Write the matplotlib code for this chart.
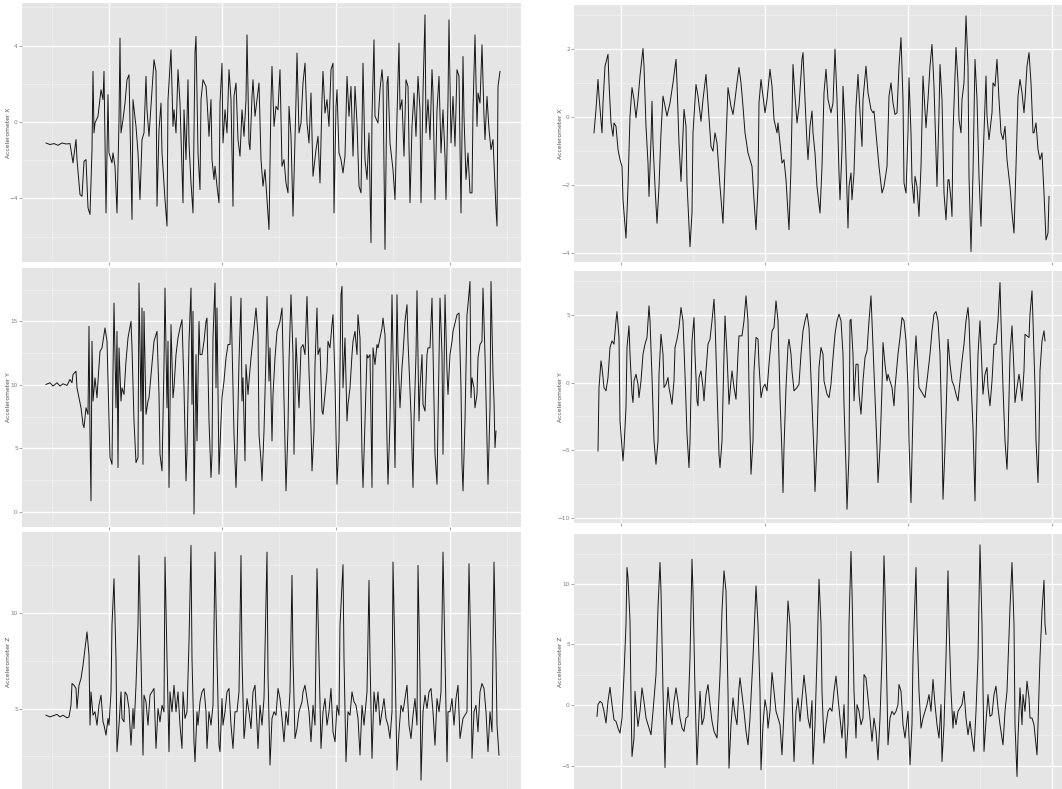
import matplotlib
matplotlib.use("Agg")
import matplotlib.pyplot as plt
from matplotlib.ticker import FixedLocator, NullFormatter

# ---------------- data (time index, acceleration) ----------------
LX = [(0,-1.1),(4,-1.18),(8,-1.13),(12,-1.22),(16,-1.1),(20,-1.15),(24,-1.13),(27,-2.14),(30,-0.92),(31,-1.97),
      (34,-3.8),(36,-3.89),(38,-2.06),(40,-1.97),(42,-4.49),(44,-4.84),(46,-1.45),(47,2.65),(48,-0.57),(49,-0.05),
      (52,0.3),(55,1.69),(57,1.17),(58,2.65),(60,-4.76),(62,1.43),(63,-1.62),(66,-2.14),(67,-1.62),(69,-2.32),
      (71,-4.76),(73,0.03),(74,4.39),(75,-0.57),(77,0.12),(79,0.99),(81,2.21),(83,2.47),(86,-5.1),(87,1.17),
      (90,-0.23),(92,-1.62),(94,-4.06),(96,-0.92),(98,-0.57),(100,2.39),(101,0.64),(103,-0.75),(106,1.69),(108,3.26),
      (110,2.65),(111,-4.41),(113,-0.4),(115,0.99),(116,-1.62),(119,-4.06),(121,-5.45),(122,1.17),(125,3.78),(127,-0.23),
      (128,0.64),(130,-0.57),(132,2.74),(134,0.99),(137,-4.23),(138,0.64),(140,-1.97),(142,2.21),(143,-1.1),(145,-3.19),
      (147,-4.76),(149,3.61),(150,4.48),(152,-1.62),(154,-3.54),(155,1.17),(157,2.21),(160,1.86),(161,1.17),(163,-0.75),
      (165,1.17),(166,-1.97),(168,-3.01),(169,-2.32),(171,-3.36),(173,-4.23),(174,0.99),(176,3.08),(177,-1.1),(179,0.64),
      (181,-0.57),(183,2.74),(185,1.17),(187,-4.41),(188,1.34),(190,2.04),(192,-0.92),(194,-1.79),(196,0.64),(198,-0.75),
      (200,1.17),(201,4.56),(203,-1.1),(204,-1.45),(206,1.34),(207,2.21),(209,0.3),(211,1.17),(213,2.04),(215,-1.97),
      (217,-3.36),(219,-2.49),(221,-4.06),(223,-5.63),(225,1.17),(226,2.91),(228,-0.23),(230,0.82),(232,0.64),(234,2.74),
      (236,-2.32),(238,-1.97),(240,-3.19),(242,-3.71),(243,0.82),(245,-0.75),(247,-4.93),(250,1.17),(251,3.61),(253,-0.57),
      (255,-0.05),(257,2.04),(259,3.08),(261,-0.05),(263,-1.1),(265,1.52),(267,-2.84),(270,-1.45),(272,-0.75),(274,-3.19),
      (276,1.17),(277,2.65),(279,0.47),(281,1.17),(283,-0.23),(285,2.74),(287,3.08),(288,-4.76),(290,0.82),(291,1.69),
      (293,-1.62),(295,-1.97),(297,-2.67),(299,-1.79),(301,2.39),(303,0.3),(305,1.86),(307,-1.79),(309,1.86),(311,-0.05),
      (313,-3.36),(315,-3.71),(317,3.08),(319,-1.97),(321,-3.01),(323,-0.57),(325,-6.32),(326,0.3),(328,4.3),(329,0.3),
      (332,-0.05),(334,1.69),(336,2.74),(337,2.04),(339,-6.67),(341,2.04),(342,2.39),(344,-1.1),(347,-2.49),(349,-4.06),
      (351,0.3),(353,4.13),(354,0.64),(356,1.17),(358,-1.79),(360,2.21),(362,1.86),(364,-4.23),(366,-0.23),(368,1.52),
      (370,-0.75),(372,2.39),(374,0.64),(375,-4.23),(377,1.52),(379,5.61),(380,-0.57),(382,1.17),(384,-0.92),(386,2.74),
      (387,1.52),(389,-4.06),(391,0.64),(393,2.39),(395,-1.62),(397,0.64),(399,-1.79),(400,-4.06),(402,1.17),(403,5.35),
      (405,-1.1),(407,1.34),(409,-1.27),(411,2.74),(413,2.39),(415,-4.76),(417,3.43),(418,0.3),(420,-3.01),(422,-1.62),
      (424,-3.71),(426,-3.71),(427,0.64),(429,4.56),(431,-0.23),(432,1.52),(434,0.99),(436,4.04),(438,0.3),(439,-0.92),
      (441,1.34),(443,-0.4),(445,-1.45),(447,-0.92),(448,-2.14),(450,-4.58),(451,-5.45),(452,1.86),(454,2.65)]

LY = [(0,10.03),(4,10.16),(7,9.9),(11,10.16),(14,9.9),(17,10.08),(21,9.95),(24,10.42),(26,10.16),(27,10.81),
      (30,11.07),(31,9.76),(33,8.98),(35,8.19),(37,6.88),(38,6.62),(40,8.19),(42,7.67),(43,14.61),(44,6.1),
      (45,0.86),(46,13.43),(47,8.72),(49,10.55),(51,8.98),(52,10.29),(54,12.64),(56,12.91),(57,13.43),(59,14.48),
      (61,13.43),(63,7.15),(64,4.27),(66,3.74),(67,11.07),(68,16.44),(70,8.19),(71,14.21),(72,3.48),(73,12.91),
      (75,8.72),(76,9.76),(78,9.24),(80,11.86),(82,13.69),(85,15.0),(86,12.91),(88,7.15),(90,3.87),(92,4.27),
      (93,18.01),(95,7.93),(96,16.05),(97,3.74),(98,15.79),(100,7.67),(102,8.72),(103,8.98),(106,11.6),(108,13.43),
      (111,14.21),(113,9.24),(114,4.53),(116,3.22),(118,11.6),(119,17.62),(121,8.19),(122,13.43),(123,1.91),(125,14.74),
      (127,8.98),(128,9.76),(130,12.38),(132,13.69),(134,14.48),(136,15.13),(138,9.76),(140,2.43),(141,4.79),(143,13.43),
      (145,17.62),(146,8.46),(147,15.79),(148,-0.18),(150,12.38),(151,5.58),(153,15.0),(154,12.38),(156,12.38),(158,13.43),
      (160,15.0),(161,15.26),(163,7.15),(165,2.7),(166,4.53),(167,13.69),(169,18.01),(170,9.76),(171,16.05),(173,2.96),
      (175,7.15),(176,8.98),(178,10.29),(180,12.12),(182,13.17),(184,13.17),(185,16.96),(187,9.76),(188,6.1),(190,1.91),
      (191,4.53),(193,11.86),(195,16.83),(196,8.72),(197,10.55),(199,4.01),(200,11.6),(202,9.24),(203,10.29),(205,12.12),
      (207,13.69),(210,16.05),(212,13.95),(213,6.1),(215,4.01),(216,2.43),(218,6.36),(220,12.38),(221,16.96),(223,10.29),
      (224,12.91),(226,5.58),(227,9.24),(229,12.12),(231,14.21),(234,15.0),(236,16.05),(238,8.72),(240,1.65),(242,6.62),
      (243,11.86),(245,17.09),(247,12.38),(248,4.53),(250,13.69),(252,9.76),(253,8.19),(255,12.91),(257,13.17),(259,12.38),
      (261,16.96),(263,11.07),(265,6.62),(266,3.22),(268,6.36),(269,11.6),(271,16.05),(272,12.38),(274,12.91),(276,7.93),
      (277,7.67),(279,9.24),(281,11.07),(282,13.43),(284,12.91),(286,14.74),(287,15.52),(289,10.29),(291,2.17),(293,5.58),
      (295,17.09),(296,17.75),(297,9.76),(299,13.69),(301,7.15),(302,8.46),(304,9.76),(306,12.38),(307,13.43),(309,14.21),
      (311,12.38),(312,15.52),(314,13.69),(316,4.53),(317,1.91),(319,7.15),(321,12.38),(322,12.12),(324,12.38),(326,1.91),
      (327,12.91),(329,11.6),(331,13.17),(332,12.91),(334,13.69),(336,14.48),(337,15.26),(339,13.95),(341,5.58),(342,2.17),
      (344,7.15),(346,17.09),(347,12.38),(349,3.48),(351,17.09),(352,12.38),(354,8.19),(356,11.34),(357,12.38),(359,15.0),
      (361,16.31),(362,13.43),(365,7.67),(367,1.91),(368,7.15),(370,12.38),(371,17.41),(373,7.15),(374,9.76),(376,12.38),
      (377,8.46),(379,7.93),(381,12.38),(382,12.91),(384,12.91),(386,16.83),(387,12.64),(389,4.53),(391,2.17),(392,7.15),
      (394,16.83),(396,12.38),(397,4.53),(399,17.09),(401,11.07),(402,9.24),(404,12.38),(406,13.43),(407,14.21),(411,15.52),
      (413,15.65),(415,9.76),(416,3.74),(417,1.65),(419,7.15),(421,15.52),(422,16.31),(424,18.14),(425,8.98),(426,10.55),
      (428,9.76),(429,8.19),(431,9.24),(432,12.12),(434,13.17),(436,13.43),(437,17.62),(439,12.38),(441,5.58),(442,2.17),
      (444,8.19),(445,18.14),(447,10.81),(448,8.72),(449,5.05),(450,6.36)]

LZ = [(0,4.65),(4,4.56),(7,4.62),(11,4.69),(14,4.56),(17,4.65),(21,4.51),(23,4.56),(25,5.17),(26,6.31),
      (28,6.22),(30,6.05),(31,5.0),(33,6.22),(35,6.57),(37,7.26),(39,8.14),(41,9.01),(43,7.79),(44,4.13),
      (45,5.87),(47,4.65),(49,4.83),(51,4.13),(53,5.17),(55,5.7),(57,4.3),(58,4.13),(60,3.61),(62,4.48),
      (63,4.13),(65,5.87),(66,9.36),(68,11.79),(70,7.61),(71,2.74),(73,4.13),(75,5.87),(76,4.48),(78,4.3),
      (79,5.87),(81,5.7),(83,5.0),(85,3.08),(87,5.0),(88,3.95),(90,6.22),(92,9.36),(93,13.01),(95,7.61),
      (97,2.56),(98,5.7),(100,5.35),(102,4.13),(104,5.7),(106,5.87),(108,6.05),(110,2.91),(112,5.0),(114,4.3),
      (116,5.17),(118,4.83),(119,12.93),(121,7.61),(123,2.74),(124,5.87),(126,4.83),(128,6.22),(130,4.83),(132,5.87),
      (134,4.13),(136,2.91),(137,5.87),(139,4.48),(141,4.83),(143,8.48),(145,13.54),(146,7.61),(148,3.26),(149,2.21),
      (151,4.83),(152,4.13),(154,5.35),(156,5.87),(158,6.05),(160,4.83),(161,2.91),(163,4.83),(165,4.13),(167,5.17),
      (169,13.19),(171,7.61),(173,3.08),(174,2.74),(176,5.52),(177,4.13),(179,4.83),(181,5.87),(183,6.05),(185,4.13),
      (187,2.91),(189,4.83),(191,4.83),(193,5.87),(195,13.01),(196,7.61),(198,3.43),(199,3.95),(201,5.52),(203,4.83),
      (205,3.95),(207,5.87),(209,6.22),(211,4.13),(212,2.91),(214,5.17),(216,4.13),(218,5.52),(221,13.19),(222,6.74),
      (224,2.04),(226,4.48),(228,4.83),(230,4.65),(232,6.05),(234,5.52),(236,4.48),(238,3.26),(240,4.83),(242,4.13),
      (244,5.87),(246,11.97),(247,7.61),(249,3.43),(251,3.95),(253,4.83),(256,5.35),(257,5.87),(259,6.22),(261,5.52),
      (263,4.83),(265,3.26),(267,5.17),(269,4.13),(271,12.32),(273,7.61),(275,2.91),(277,4.83),(279,5.52),(281,4.13),
      (283,4.83),(285,6.05),(287,3.78),(289,3.26),(291,5.17),(293,4.65),(294,9.36),(297,12.53),(298,7.61),(300,2.21),
      (302,4.83),(304,4.65),(306,5.87),(308,5.35),(310,5.17),(312,4.48),(314,2.56),(316,5.17),(318,4.13),(321,5.87),
      (323,11.71),(324,7.61),(326,2.39),(328,5.87),(330,4.83),(332,5.87),(334,4.13),(336,4.83),(338,5.52),(340,4.48),
      (342,4.13),(344,3.43),(346,4.83),(347,12.67),(349,7.61),(351,1.78),(353,3.78),(355,5.17),(357,4.83),(359,5.52),
      (361,6.22),(363,4.13),(365,3.43),(367,4.65),(369,5.52),(371,4.13),(372,12.49),(374,6.74),(375,1.25),(377,4.83),
      (379,5.7),(381,5.0),(383,5.87),(385,6.05),(387,4.83),(389,3.08),(391,5.52),(393,4.83),(395,5.87),(397,13.19),
      (399,7.61),(401,2.21),(402,4.83),(404,4.83),(406,5.52),(408,4.13),(410,5.52),(412,6.22),(414,3.43),(416,4.13),
      (417,4.48),(421,4.83),(423,12.58),(425,7.61),(426,2.39),(428,4.83),(430,5.17),(432,3.78),(434,5.87),(436,6.31),
      (438,6.05),(440,4.83),(442,2.74),(444,4.83),(446,3.78),(448,12.67),(450,7.61),(451,4.13),(453,2.56)]

RX = [(0,-0.47),(2,0.22),(4,1.1),(5,0.61),(8,-0.47),(9,0.41),(11,1.49),(14,1.84),(15,1.0),(17,-0.18),
      (19,-0.57),(20,-0.18),(22,-0.28),(24,-0.96),(26,-1.26),(28,-1.46),(29,-2.44),(32,-3.57),(34,-2.05),(36,0.02),
      (38,0.86),(40,0.51),(42,-0.03),(44,0.51),(46,1.2),(49,2.01),(50,1.49),(52,-0.28),(54,-1.36),(55,-2.34),
      (57,-0.67),(58,0.46),(59,-0.77),(61,-2.05),(63,-3.13),(65,-2.05),(67,-0.47),(69,0.61),(71,0.31),(73,0.02),
      (76,0.41),(79,1.0),(82,1.69),(83,1.0),(85,-0.77),(87,-1.9),(89,-0.47),(90,0.22),(92,-0.28),(93,-1.95),
      (96,-3.82),(98,-2.83),(99,-0.47),(102,0.95),(104,0.61),(107,-0.13),(109,0.51),(112,1.25),(114,0.41),(117,-0.87),
      (119,-1.01),(121,-0.47),(123,-0.77),(126,-2.05),(129,-3.13),(131,-1.46),(134,0.86),(137,0.31),(139,0.07),(141,0.51),
      (143,1.0),(145,1.45),(147,1.0),(149,0.31),(151,-0.47),(154,-1.06),(158,-1.46),(160,-2.44),(162,-3.32),(164,-2.05),
      (165,0.41),(167,1.1),(169,0.61),(171,0.12),(173,0.51),(176,1.4),(178,0.9),(180,-0.08),(183,-0.47),(184,-0.18),
      (186,-0.77),(188,-1.36),(190,-1.26),(192,-1.85),(195,-3.32),(197,-1.46),(199,1.54),(201,0.61),(203,-0.18),(205,0.31),
      (208,1.69),(209,1.89),(211,0.51),(213,-0.77),(214,-1.26),(216,-0.28),(218,0.17),(219,-0.47),(221,-1.06),(223,-2.05),
      (226,-2.83),(228,-1.46),(230,0.71),(232,1.4),(234,0.51),(237,0.12),(239,0.41),(241,1.99),(243,0.51),(245,-1.65),
      (246,-2.44),(248,-0.96),(249,0.9),(251,-0.28),(254,-3.27),(255,-2.05),(257,-1.65),(258,-2.44),(260,-1.65),(262,0.31),
      (264,1.25),(266,0.12),(268,-0.87),(269,0.51),(272,1.49),(274,0.71),(277,0.22),(279,0.12),(280,0.17),(282,-0.47),
      (285,-1.46),(288,-2.24),(290,-2.05),(293,-1.46),(295,0.61),(297,1.0),(299,0.41),(301,0.07),(303,0.12),(305,1.49),
      (307,2.33),(309,0.51),(310,-1.95),(312,-2.24),(314,-0.47),(315,1.15),(317,-0.47),(318,-1.9),(320,-2.54),(321,-1.75),
      (323,-2.05),(325,-2.93),(327,-1.46),(329,1.2),(330,0.71),(332,-0.32),(334,0.51),(336,1.49),(338,2.13),(340,0.9),
      (343,-2.05),(345,0.12),(346,1.54),(348,0.51),(350,-2.24),(352,-3.03),(354,-1.85),(355,-1.85),(357,-2.44),(358,-2.93),
      (359,-0.47),(362,2.04),(364,1.0),(365,-0.08),(367,-0.47),(368,0.51),(370,1.0),(372,2.97),(374,1.49),(375,-1.75),
      (377,-3.96),(379,-1.65),(381,1.69),(383,0.51),(385,-1.75),(387,-3.22),(388,-2.05),(390,-0.47),(392,1.2),(393,0.02),
      (395,-0.67),(398,0.12),(399,1.0),(401,0.9),(403,1.69),(405,0.51),(407,-0.47),(409,-0.67),(411,-0.28),(413,-1.26),
      (416,-2.05),(418,-2.83),(420,-3.42),(422,-1.46),(424,0.61),(426,1.1),(428,0.71),(430,0.12),(431,0.51),(433,1.49),
      (435,1.89),(437,1.0),(439,-0.47),(440,-0.47),(442,-0.18),(444,-0.96),(446,-1.26),(448,-1.06),(450,-2.24),(452,-3.62),
      (454,-3.42),(455,-2.34)]

RY = [(4,-5.04),(5,-0.37),(7,1.6),(8,1.11),(10,-0.37),(12,-0.61),(14,0.37),(16,2.58),(18,3.07),(20,2.83),
      (22,4.55),(23,5.23),(25,3.32),(26,-2.83),(28,-4.79),(29,-5.77),(30,-4.79),(32,-1.84),(33,2.58),(35,4.18),
      (36,2.09),(38,-0.86),(39,-1.47),(40,0.12),(42,0.61),(44,-0.12),(45,-1.11),(47,0.12),(49,2.09),(51,2.83),
      (53,3.32),(55,5.65),(56,4.55),(58,0.37),(60,-4.3),(62,-6.02),(64,-4.3),(65,0.61),(67,3.56),(69,2.09),
      (70,-0.37),(72,-0.12),(74,0.37),(75,-0.37),(78,-1.6),(80,0.12),(81,2.58),(83,3.19),(85,4.05),(87,5.53),
      (89,4.55),(91,0.61),(93,-3.81),(95,-6.27),(96,-4.3),(98,3.07),(100,4.79),(101,2.09),(103,-1.35),(104,-1.72),
      (105,0.37),(107,0.86),(109,-0.37),(110,-1.35),(112,0.86),(114,2.83),(116,3.19),(118,4.55),(120,6.14),(121,4.55),
      (123,-0.37),(125,-5.28),(126,-6.27),(128,-4.3),(130,2.09),(131,4.91),(133,2.09),(135,-1.6),(137,0.12),(138,0.86),
      (140,-0.37),(142,-1.23),(144,2.09),(145,3.44),(148,3.44),(150,4.55),(152,6.39),(154,4.55),(155,-0.37),(157,-6.76),
      (159,-4.3),(160,0.86),(162,3.32),(164,3.19),(165,1.35),(167,-1.11),(169,-0.37),(171,-0.12),(173,-0.61),(175,1.35),
      (178,3.81),(180,4.05),(182,6.02),(184,4.55),(186,-1.11),(188,-5.28),(189,-8.11),(190,-4.79),(192,-0.37),(194,2.7),
      (195,3.19),(197,2.09),(198,0.86),(200,-0.61),(203,-0.37),(205,-0.12),(207,2.09),(209,3.81),(211,4.55),(213,5.09),
      (215,4.05),(218,-1.6),(220,-5.28),(221,-8.03),(223,-4.3),(225,1.11),(227,2.58),(229,2.09),(230,0.12),(233,-0.86),
      (235,-1.11),(237,-0.12),(239,1.84),(241,3.56),(243,4.55),(245,5.04),(247,4.55),(249,2.09),(250,-1.6),(252,-6.27),
      (253,-9.34),(255,-5.28),(256,4.55),(257,4.67),(259,2.09),(260,-1.35),(262,1.35),(264,1.35),(265,-0.86),(267,-2.33),
      (269,0.12),(271,1.84),(273,2.33),(275,4.55),(277,6.39),(278,4.55),(281,-0.86),(283,-4.79),(284,-7.37),(286,-4.79),
      (288,-0.37),(289,2.95),(291,1.35),(293,0.12),(294,0.61),(296,0.12),(298,-0.37),(300,-1.72),(301,-0.37),(304,2.09),
      (306,3.32),(308,4.79),(310,4.55),(312,3.07),(314,-0.37),(315,-4.3),(317,-8.85),(318,-5.28),(320,0.86),(322,3.44),
      (323,2.09),(325,-0.37),(327,-0.61),(329,-0.86),(331,-1.11),(333,0.12),(336,2.09),(338,3.81),(340,5.04),(342,5.23),
      (344,4.55),(346,2.09),(348,-3.81),(349,-8.6),(351,-4.79),(353,0.12),(354,3.19),(356,1.35),(358,0.12),(360,-0.25),
      (362,-0.86),(364,-1.35),(366,0.12),(368,1.6),(370,2.83),(372,4.55),(374,5.53),(375,4.55),(377,0.12),(379,-3.32),
      (381,-8.72),(382,-4.3),(384,2.09),(386,4.55),(388,0.86),(389,-0.86),(391,0.61),(393,1.11),(394,-0.37),(396,-1.72),
      (398,0.12),(400,2.83),(402,2.83),(404,4.55),(406,7.37),(407,4.55),(409,-0.37),(411,-4.3),(413,-6.39),(414,-4.3),
      (416,2.09),(418,4.18),(420,0.86),(421,-1.47),(423,-0.37),(425,0.61),(426,0.12),(428,-1.35),(430,0.86),(431,3.56),
      (433,3.44),(435,3.32),(436,5.04),(438,6.76),(439,4.55),(441,-0.37),(442,-4.3),(444,-7.37),(445,-4.3),(446,0.86),
      (448,3.07),(450,3.81),(451,3.07)]

RZ = [(3,-0.94),(4,0.03),(6,0.3),(8,0.17),(10,-0.52),(12,-1.49),(14,0.3),(16,1.46),(18,0.03),(20,-1.22),
      (22,-1.35),(24,-1.91),(26,-2.32),(28,-1.08),(30,2.51),(32,6.66),(33,11.35),(34,10.52),(36,6.93),(37,0.58),
      (38,-4.25),(40,-2.73),(41,1.13),(42,0.03),(44,-1.77),(46,-0.52),(48,1.41),(50,0.3),(52,-1.08),(55,-1.91),
      (57,-2.46),(59,-0.52),(62,2.51),(64,8.04),(66,11.77),(67,9.42),(69,1.13),(71,-5.17),(72,-1.35),(74,1.46),
      (76,-0.52),(78,-1.63),(80,0.3),(82,1.41),(84,0.3),(86,-1.08),(88,-1.91),(90,-2.18),(92,-1.08),(94,-0.94),
      (96,3.9),(98,12.04),(99,9.42),(101,1.13),(103,-4.94),(105,-0.8),(106,1.13),(108,-1.63),(110,-1.08),(112,0.86),
      (114,1.69),(116,0.03),(118,-1.35),(120,-2.18),(123,-2.73),(124,-1.08),(126,2.51),(128,7.76),(130,11.08),(132,9.42),
      (134,1.13),(135,-5.22),(137,-1.63),(139,0.58),(141,-0.8),(143,-1.63),(145,1.41),(146,2.24),(148,0.86),(150,-0.52),
      (152,-2.18),(154,-3.29),(156,-1.08),(159,3.9),(161,7.76),(162,9.83),(164,6.66),(166,1.13),(167,-5.36),(169,-1.63),
      (171,0.44),(173,-0.52),(174,-1.91),(176,-0.52),(178,2.68),(180,1.13),(182,-0.52),(184,-1.08),(186,-1.63),(188,-4.12),
      (190,-0.52),(192,3.9),(194,8.59),(196,6.66),(198,1.13),(200,-4.67),(202,-0.52),(204,0.58),(206,-1.35),(208,0.58),
      (210,2.46),(212,0.86),(214,-1.08),(216,-1.91),(218,0.36),(219,-4.89),(221,-1.63),(223,3.9),(225,10.39),(227,6.66),
      (228,1.13),(230,-3.15),(232,-1.63),(234,-0.52),(236,-0.25),(238,-0.52),(240,1.13),(242,2.38),(244,0.58),(246,-1.08),
      (248,-2.73),(250,0.03),(252,-4.39),(254,-1.63),(255,6.66),(257,12.68),(258,9.42),(260,1.13),(262,-2.73),(263,0.03),
      (265,-0.52),(267,-1.63),(269,-1.08),(270,2.51),(272,2.24),(274,0.58),(276,-1.08),(278,-3.01),(280,-1.08),(282,-2.18),
      (284,-4.53),(286,-1.08),(288,3.9),(290,12.32),(291,9.42),(293,1.13),(294,-3.29),(296,-1.08),(298,-0.52),(300,-0.8),
      (302,-0.52),(304,0.03),(305,1.69),(307,1.13),(309,-1.63),(311,-2.73),(314,-0.52),(316,-4.94),(318,-1.63),(319,3.9),
      (322,11.35),(323,6.66),(325,1.13),(327,-1.91),(329,-1.08),(331,-0.52),(333,0.03),(335,0.86),(337,-0.52),(339,2.1),
      (341,0.03),(343,-1.63),(345,-2.73),(347,0.03),(348,-4.67),(350,-1.63),(352,3.9),(354,11.08),(355,6.66),(357,1.13),
      (359,-1.91),(360,-0.52),(362,-1.63),(364,-0.52),(366,-0.25),(368,0.03),(370,1.13),(372,-1.08),(374,-2.46),(376,-1.35),
      (378,-2.73),(380,-3.84),(382,-0.52),(384,3.9),(386,13.23),(388,6.66),(390,-3.84),(392,-1.35),(394,0.86),(396,-0.94),
      (398,-0.8),(400,0.86),(402,1.55),(404,-0.25),(406,-1.63),(408,-2.73),(409,-3.29),(411,-0.52),(413,1.13),(416,8.04),
      (418,11.77),(420,6.66),(421,-1.63),(423,-5.91),(424,-2.73),(426,1.41),(428,-1.63),(429,0.86),(431,-0.52),(433,1.96),
      (435,0.58),(436,-1.08),(438,-1.08),(440,-1.63),(443,-4.12),(444,-1.63),(446,3.9),(448,7.76),(450,10.3),(451,6.66),
      (452,5.83)]

LABELS = ["Accelerometer X", "Accelerometer Y", "Accelerometer Z"]

# ---------------- layout ----------------
W, H = 1062, 789
fig = plt.figure(figsize=(W / 100, H / 100), dpi=100)
fig.patch.set_facecolor("white")


def rect(x0, y0, x1, y1):
    return [x0 / W, 1 - y1 / H, (x1 - x0) / W, (y1 - y0) / H]


LEFT_X = (22, 521)
RIGHT_X = (574, 1070)
left_xlim = (-24, 475)
left_xmaj = [63, 176.5, 290, 404]
right_xlim = (-20, 476)
right_xmaj = [27, 170.5, 314, 458]

panels = [
    dict(data=LX, lab=LABELS[0], box=(LEFT_X[0], 3, LEFT_X[1], 262), xlim=left_xlim, xmaj=left_xmaj,
         ylim=(-7.33, 6.23), ymaj=[-4, 0, 4], ymin=[-6, -2, 2, 6]),
    dict(data=LY, lab=LABELS[1], box=(LEFT_X[0], 268, LEFT_X[1], 527), xlim=left_xlim, xmaj=left_xmaj,
         ylim=(-1.2, 19.2), ymaj=[0, 5, 10, 15], ymin=[2.5, 7.5, 12.5, 17.5]),
    dict(data=LZ, lab=LABELS[2], box=(LEFT_X[0], 532, LEFT_X[1], 792), xlim=left_xlim, xmaj=left_xmaj,
         ylim=(0.63, 14.24), ymaj=[5, 10], ymin=[2.5, 7.5, 12.5]),
    dict(data=RX, lab=LABELS[0], box=(RIGHT_X[0], 5, RIGHT_X[1], 262), xlim=right_xlim, xmaj=right_xmaj,
         ylim=(-4.27, 3.29), ymaj=[-4, -2, 0, 2], ymin=[-3, -1, 1, 3]),
    dict(data=RY, lab=LABELS[1], box=(RIGHT_X[0], 271, RIGHT_X[1], 523), xlim=right_xlim, xmaj=right_xmaj,
         ylim=(-10.35, 8.22), ymaj=[-10, -5, 0, 5], ymin=[-7.5, -2.5, 2.5, 7.5]),
    dict(data=RZ, lab=LABELS[2], box=(RIGHT_X[0], 534, RIGHT_X[1], 789), xlim=right_xlim, xmaj=right_xmaj,
         ylim=(-6.94, 14.12), ymaj=[-5, 0, 5, 10], ymin=[-2.5, 2.5, 7.5, 12.5]),
]

for p in panels:
    ax = fig.add_axes(rect(*p["box"]))
    ax.set_facecolor("#E5E5E5")
    for s in ax.spines.values():
        s.set_visible(False)
    t = [d[0] for d in p["data"]]
    v = [d[1] for d in p["data"]]
    ax.plot(t, v, color="#151515", lw=0.7, zorder=3)
    ax.set_xlim(*p["xlim"])
    ax.set_ylim(*p["ylim"])
    xm = p["xmaj"]
    step = xm[1] - xm[0]
    xminor = [xm[0] - step / 2] + [a + step / 2 for a in xm]
    ax.xaxis.set_major_locator(FixedLocator(xm))
    ax.xaxis.set_minor_locator(FixedLocator(xminor))
    ax.yaxis.set_major_locator(FixedLocator(p["ymaj"]))
    ax.yaxis.set_minor_locator(FixedLocator(p["ymin"]))
    ax.xaxis.set_major_formatter(NullFormatter())
    ax.grid(which="major", color="white", lw=0.9, zorder=0)
    ax.grid(which="minor", color="#F2F2F2", lw=0.45, zorder=0)
    ax.set_axisbelow(True)
    ax.tick_params(which="major", length=2, width=0.5, color="#7F7F7F", labelsize=4.2,
                   labelcolor="#7F7F7F", pad=1)
    ax.tick_params(which="minor", length=0)
    ax.set_ylabel(p["lab"], fontsize=4.3, color="#4D4D4D", labelpad=2)
    ax.yaxis.set_label_coords(-0.022, 0.5)

fig.savefig("out.png", dpi=100, facecolor="white")
